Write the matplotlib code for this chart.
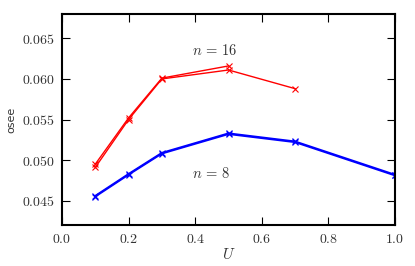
import matplotlib
matplotlib.use("Agg")
import matplotlib.pyplot as plt
from matplotlib.ticker import FuncFormatter, MultipleLocator

plt.rcParams['mathtext.fontset'] = 'cm'

U_16a = [0.1, 0.2, 0.3, 0.5]
osee_16a = [0.0495, 0.0552, 0.0601, 0.0616]
U_16b = [0.1, 0.2, 0.3, 0.5, 0.7]
osee_16b = [0.0491, 0.0550, 0.0600, 0.0611, 0.0588]
U_8a = [0.1, 0.2, 0.3, 0.5, 0.7, 1.0]
osee_8a = [0.0456, 0.0483, 0.0509, 0.0533, 0.0523, 0.0482]
U_8b = [0.1, 0.2, 0.3, 0.5, 0.7, 1.0]
osee_8b = [0.0455, 0.0482, 0.0508, 0.0532, 0.0522, 0.0481]

fig = plt.figure(figsize=(4.15, 2.66), dpi=100)
ax = fig.add_axes([62/415, 1-225/266, (395-62)/415, (225-14)/266])

ax.plot(U_16a, osee_16a, color='red', marker='x', lw=1.0, ms=5, mew=0.8)
ax.plot(U_16b, osee_16b, color='red', marker='x', lw=1.0, ms=5, mew=0.8)
ax.plot(U_8a, osee_8a, color='blue', marker='x', lw=1.3, ms=5, mew=0.8)
ax.plot(U_8b, osee_8b, color='blue', marker='x', lw=1.3, ms=5, mew=0.8)

ax.text(0.46, 0.0635, r'$n\,=\,16$', ha='center', va='center', fontsize=10.5, color='#333333')
ax.text(0.447, 0.0484, r'$n\,=\,8$', ha='center', va='center', fontsize=10.5, color='#333333')

ax.set_xlim(0.0, 1.0)
ax.set_ylim(0.042, 0.068)
ax.xaxis.set_major_locator(MultipleLocator(0.2))
ax.yaxis.set_major_locator(MultipleLocator(0.005))
ax.xaxis.set_major_formatter(FuncFormatter(lambda v, p: r'$%.1f$' % v))
ax.yaxis.set_major_formatter(FuncFormatter(lambda v, p: r'$%.3f$' % v))
ax.tick_params(direction='in', top=True, right=True, length=6, width=0.8,
               labelsize=10, pad=5, labelcolor='#333333')
for s in ax.spines.values():
    s.set_linewidth(1.5)
ax.set_xlabel(r'$U$', fontsize=11, labelpad=1, color='#333333')
ax.set_ylabel('osee', fontsize=8, labelpad=4, color='#333333')

fig.savefig('out.png', dpi=100)
